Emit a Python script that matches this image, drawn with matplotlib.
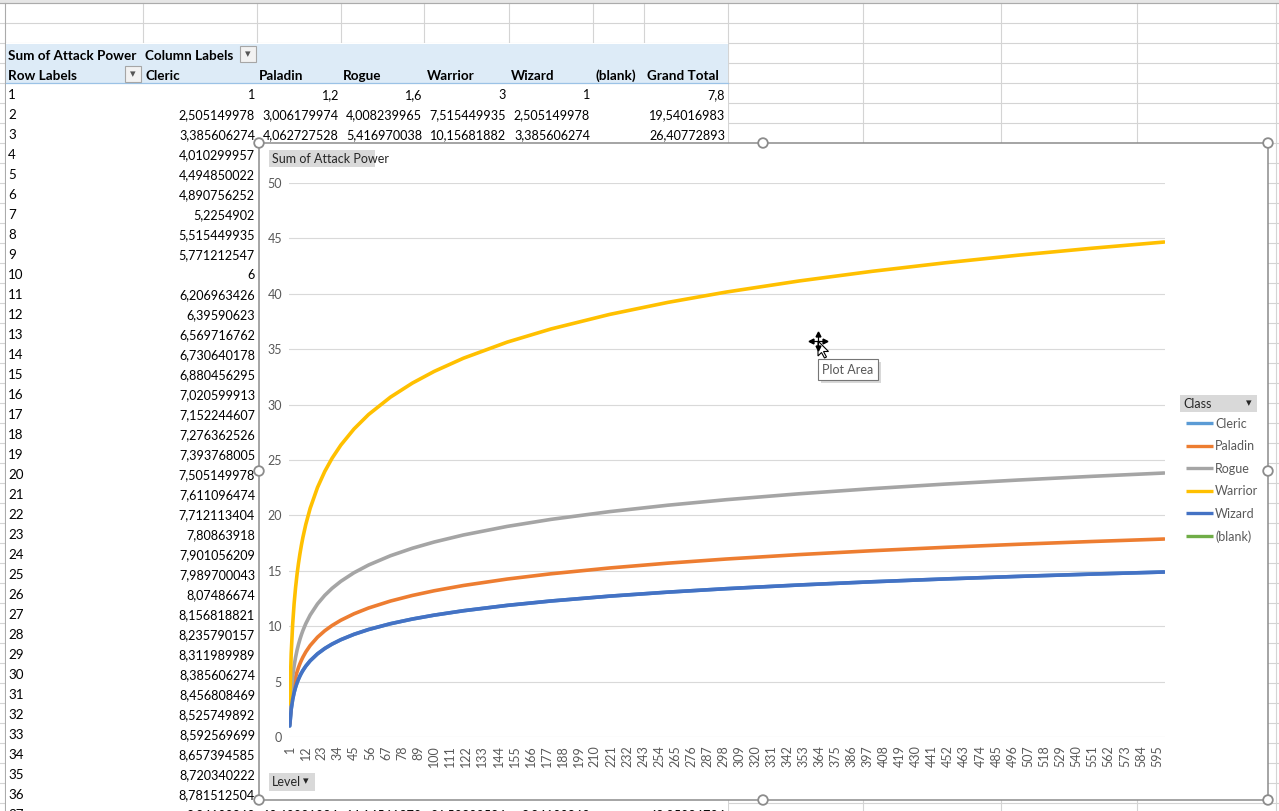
import matplotlib
matplotlib.use('Agg')
import matplotlib.pyplot as plt
from matplotlib.patches import Rectangle, Circle, Polygon

plt.rcParams['font.family'] = ['Lato', 'DejaVu Sans']

# ---- pivot table values as shown on the sheet ----
row_labels = list(range(1, 38))
cleric_tbl = [1, 2.505149978, 3.385606274, 4.010299957, 4.494850022, 4.890756252,
              5.2254902, 5.515449935, 5.771212547, 6, 6.206963426, 6.39590623,
              6.569716762, 6.730640178, 6.880456295, 7.020599913, 7.152244607,
              7.276362526, 7.393768005, 7.505149978, 7.611096474, 7.712113404,
              7.80863918, 7.901056209, 7.989700043, 8.07486674, 8.156818821,
              8.235790157, 8.311989989, 8.385606274, 8.456808469, 8.525749892,
              8.592569699, 8.657394585, 8.720340222, 8.781512504, 8.84100862]
# rows 1-3 and 37 are visible across all columns
paladin_tbl = {1: 1.2, 2: 3.006179974, 3: 4.062727528, 37: 10.60921034}
rogue_tbl = {1: 1.6, 2: 4.008239965, 3: 5.416970038, 37: 14.14561379}
warrior_tbl = {1: 3, 2: 7.515449935, 3: 10.15681882, 37: 26.52302586}
wizard_tbl = {1: 1, 2: 2.505149978, 3: 3.385606274, 37: 8.84100862}
total_tbl = {1: 7.8, 2: 19.54016983, 3: 26.40772893, 37: 68.95986724}

col_names = ['Cleric', 'Paladin', 'Rogue', 'Warrior', 'Wizard', '(blank)', 'Grand Total']

# ---- chart series (Sum of Attack Power by Level) ----
levels = [1, 2, 3, 4, 5, 6, 7, 8, 9, 10, 12, 15, 20, 25, 30, 36, 45, 55, 70, 85, 100,
          120, 150, 180, 220, 260, 300, 350, 400, 450, 500, 550, 600]
cleric = [1.0, 2.505, 3.386, 4.010, 4.495, 4.891, 5.225, 5.515, 5.771, 6.0, 6.396,
          6.880, 7.505, 7.990, 8.386, 8.782, 9.266, 9.702, 10.225, 10.647, 11.0,
          11.396, 11.880, 12.276, 12.712, 13.075, 13.386, 13.720, 14.010, 14.266,
          14.495, 14.702, 14.891]
paladin = [1.2, 3.006, 4.063, 4.812, 5.394, 5.869, 6.271, 6.619, 6.925, 7.2, 7.675,
           8.256, 9.006, 9.588, 10.063, 10.538, 11.119, 11.642, 12.270, 12.776, 13.2,
           13.675, 14.256, 14.731, 15.254, 15.690, 16.063, 16.464, 16.812, 17.119,
           17.394, 17.642, 17.869]
rogue = [1.6, 4.008, 5.417, 6.416, 7.192, 7.825, 8.361, 8.824, 9.234, 9.6, 10.234,
         11.008, 12.008, 12.784, 13.418, 14.051, 14.826, 15.523, 16.360, 17.035, 17.6,
         18.234, 19.008, 19.642, 20.339, 20.920, 21.418, 21.952, 22.416, 22.826,
         23.192, 23.523, 23.826]
warrior = [3.0, 7.515, 10.157, 12.031, 13.485, 14.672, 15.676, 16.546, 17.314, 18.0,
           19.188, 20.641, 22.515, 23.969, 25.158, 26.345, 27.798, 29.106, 30.675,
           31.941, 33.0, 34.188, 35.641, 36.828, 38.136, 39.225, 40.158, 41.160,
           42.031, 42.798, 43.485, 44.106, 44.673]
wizard = [1.0, 2.505, 3.386, 4.010, 4.495, 4.891, 5.225, 5.515, 5.771, 6.0, 6.396,
          6.880, 7.505, 7.990, 8.386, 8.782, 9.266, 9.702, 10.225, 10.647, 11.0,
          11.396, 11.880, 12.276, 12.712, 13.075, 13.386, 13.720, 14.010, 14.266,
          14.495, 14.702, 14.891]
n_levels = 600

classes = ['Cleric', 'Paladin', 'Rogue', 'Warrior', 'Wizard', '(blank)']
colors = ['#5B9BD5', '#ED7D31', '#A5A5A5', '#FFC000', '#4472C4', '#70AD47']
series = [cleric, paladin, rogue, warrior, wizard]

W, H = 1279, 811


def xl(v):
    # excel "General" format, comma decimal
    return f"{v:.10g}".replace('.', ',')


fig = plt.figure(figsize=(W / 100, H / 100), dpi=100)
fig.patch.set_facecolor('white')

bg = fig.add_axes([0, 0, 1, 1], zorder=0)
bg.set_xlim(0, W)
bg.set_ylim(H, 0)
bg.axis('off')

grid_c = '#D4D4D4'
col_x = [143, 257, 341, 424, 509, 593, 644, 728, 863, 1001, 1137, 1276]
for y in range(3, H, 20):
    bg.plot([0, W], [y, y], color=grid_c, lw=0.8)
for x in col_x:
    bg.plot([x, x], [3, H], color=grid_c, lw=0.8)

# sheet edges
bg.add_patch(Rectangle((0, 0), W, 3, color='#E6E6E6', lw=0))
bg.plot([0, W], [3, 3], color='#ABABAB', lw=0.8)
bg.plot([5, 5], [3, H], color='#ABABAB', lw=0.8)

# pivot table body (no gridlines) and header fill
bg.add_patch(Rectangle((5.5, 43), 722, H - 43, color='white', lw=0, zorder=2))
bg.add_patch(Rectangle((5.5, 43.5), 722, 39.5, color='#DDEBF7', lw=0, zorder=2))
bg.plot([5.5, 728], [83, 83], color='#9BC2E6', lw=0.9, zorder=3)

fs = 9.1
fsb = 9.7
dy = 2
bg.text(8, 54 + dy, 'Sum of Attack Power', fontsize=fsb, weight='bold', va='center', zorder=4)
bg.text(145, 54 + dy, 'Column Labels', fontsize=fsb, weight='bold', va='center', zorder=4)
bg.text(8, 74 + dy, 'Row Labels', fontsize=fsb, weight='bold', va='center', zorder=4)


def drop_btn(x, y):
    bg.add_patch(Rectangle((x, y), 16, 16, facecolor='#F2F2F2', edgecolor='#A6A6A6',
                           lw=0.8, zorder=4))
    bg.text(x + 8, y + 8, '▾', fontsize=8, color='#555555', ha='center', va='center', zorder=5)


drop_btn(240, 46)
drop_btn(125, 66)

head_x = [145, 259, 343, 427, 511, 595, 647]
for name, x in zip(col_names, head_x):
    bg.text(x, 74 + dy, name, fontsize=fsb, weight='bold', va='center', zorder=4)

right_x = [255, 339, 422, 506, 590, None, 725]
for i, lv in enumerate(row_labels):
    y = 93 + 20 * i + dy
    bg.text(8, y, str(lv), fontsize=9.6, va='center', zorder=4)
    bg.text(right_x[0], y, xl(cleric_tbl[i]), fontsize=fs, va='center', ha='right', zorder=4)
    if lv in paladin_tbl:
        vals = [paladin_tbl[lv], rogue_tbl[lv], warrior_tbl[lv], wizard_tbl[lv], None, total_tbl[lv]]
        for v, x in zip(vals, right_x[1:]):
            if v is not None:
                bg.text(x, y, xl(v), fontsize=fs, va='center', ha='right', zorder=4)

# chart area
cx0, cy0, cx1, cy1 = 259, 143, 1268, 800
bg.add_patch(Rectangle((cx0, cy0), cx1 - cx0, cy1 - cy0, facecolor='white',
                       edgecolor='#8C8C8C', lw=1.1, zorder=6))

txt_c = '#595959'
cfs = 9

# field buttons
bg.add_patch(Rectangle((269, 150), 106, 17, facecolor='#D9D9D9', edgecolor='none', zorder=7))
bg.text(272, 159, 'Sum of Attack Power', fontsize=cfs, color='#262626', va='center', zorder=8)
bg.add_patch(Rectangle((269, 773), 46, 18, facecolor='#D9D9D9', edgecolor='none', zorder=7))
bg.text(272, 782.5, 'Level', fontsize=cfs, color='#262626', va='center', zorder=8)
bg.text(306, 781, '▾', fontsize=8, color='#262626', ha='center', va='center', zorder=8)

# legend
bg.add_patch(Rectangle((1180, 395), 77, 17, facecolor='#D9D9D9', edgecolor='none', zorder=7))
bg.text(1183, 404, 'Class', fontsize=cfs, color='#262626', va='center', zorder=8)
bg.text(1249, 403, '▾', fontsize=8, color='#262626', ha='center', va='center', zorder=8)
for k, (name, c) in enumerate(zip(classes, colors)):
    y = 423 + 22.6 * k
    bg.plot([1186, 1213], [y, y], color=c, lw=2.4, zorder=8, solid_capstyle='butt')
    bg.text(1215, y + 0.5, name, fontsize=cfs, color=txt_c, va='center', zorder=8)

# plot area
ax = fig.add_axes([289 / W, (H - 737) / H, 876 / W, 554 / H], zorder=2)
ax.set_facecolor('none')
for name, vals, c in zip(classes, series, colors):
    ax.plot(levels, vals, color=c, lw=2.6, solid_capstyle='round', solid_joinstyle='round')
ax.set_xlim(0.5, n_levels + 0.5)
ax.set_ylim(0, 50)
ax.set_yticks(range(0, 51, 5))
ticks = list(range(1, n_levels, 11))
ax.set_xticks(ticks)
ax.set_xticklabels([str(t) for t in ticks], rotation=90, va='top')
ax.yaxis.grid(True, color='#D9D9D9', lw=0.8)
ax.set_axisbelow(True)
for s in ax.spines.values():
    s.set_visible(False)
ax.tick_params(axis='both', length=0, labelsize=cfs, labelcolor=txt_c)
ax.tick_params(axis='y', pad=5)
ax.tick_params(axis='x', pad=6)

# overlay: handles, tooltip, cursor
top = fig.add_axes([0, 0, 1, 1], zorder=5)
top.set_xlim(0, W)
top.set_ylim(H, 0)
top.axis('off')
for hx, hy in [(cx0, cy0), (763, cy0), (cx1, cy0), (cx0, 471), (cx1, 471),
               (cx0, cy1), (763, cy1), (cx1, cy1)]:
    top.add_patch(Circle((hx, hy), 4.8, facecolor='white', edgecolor='#8C8C8C', lw=1.3))

top.add_patch(Rectangle((821, 362), 60, 21, facecolor='#BFBFBF', edgecolor='none', alpha=0.6))
top.add_patch(Rectangle((818, 359), 60, 21, facecolor='white', edgecolor='#767676', lw=0.8))
top.text(848, 370, 'Plot Area', fontsize=cfs, color='#575757', ha='center', va='center')

# move cursor
mx, my = 818, 341
top.plot([mx - 7, mx + 7], [my, my], color='black', lw=0.9)
top.plot([mx, mx], [my - 7, my + 7], color='black', lw=0.9)
for (ddx, ddy), mk in [((-7, 0), '<'), ((7, 0), '>'), ((0, -7), '^'), ((0, 7), 'v')]:
    top.plot(mx + ddx, my + ddy, marker=mk, color='black', ms=3.5)
top.add_patch(Polygon([(mx, my), (mx, my + 15), (mx + 3.5, my + 11.5), (mx + 6.5, my + 17),
                       (mx + 8.5, my + 16), (mx + 5.5, my + 10.5), (mx + 10.5, my + 10.5)],
                      closed=True, facecolor='white', edgecolor='black', lw=0.8))

fig.savefig('out.png', dpi=100)
